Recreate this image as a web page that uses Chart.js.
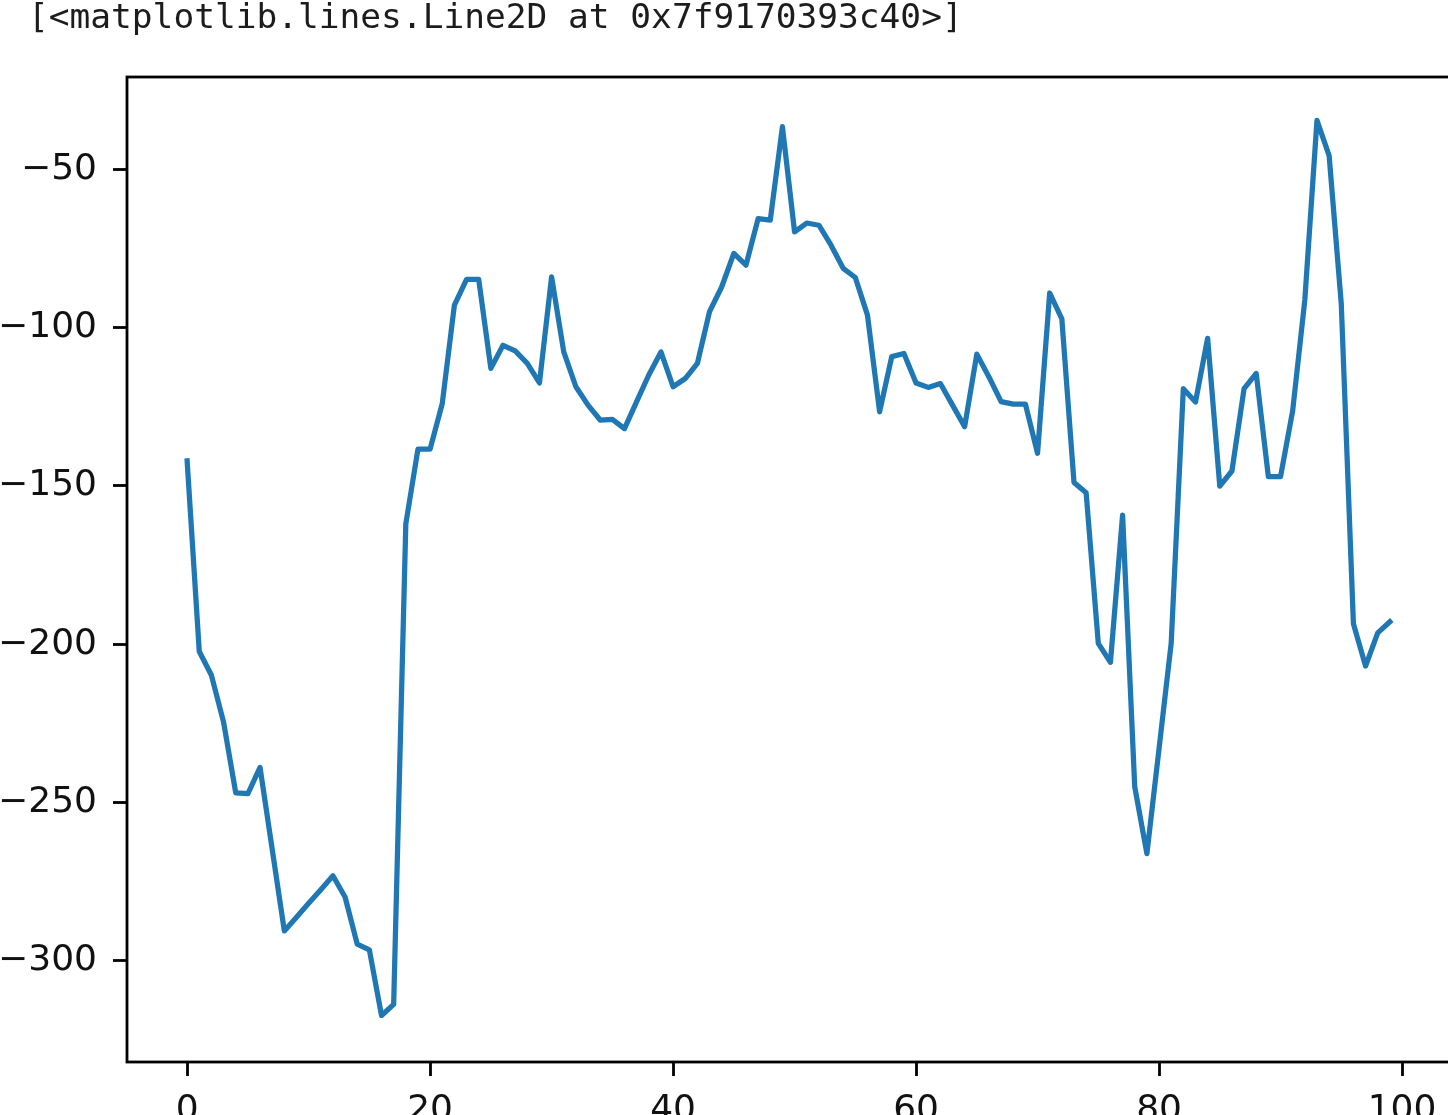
<!DOCTYPE html>
<html>
<head>
<meta charset="utf-8">
<title>Line2D</title>
<script src="https://cdn.jsdelivr.net/npm/chart.js@4.4.1/dist/chart.umd.min.js"></script>
<style>
  html, body { margin: 0; padding: 0; background: #fff; overflow: hidden; width: 1448px; height: 1115px; }
  #walkChart { position: absolute; left: 0; top: 0; }
  #out-text { position: absolute; left: 28px; top: -1px; z-index: 2; font-family: "DejaVu Sans Mono", monospace; font-size: 34.5px; line-height: 34px; color: #1c1c1c; white-space: pre; }
</style>
</head>
<body>
<canvas id="walkChart" width="1460" height="1115"></canvas>
<div id="out-text">[&lt;matplotlib.lines.Line2D at 0x7f9170393c40&gt;]</div>
<script>
// values, one per x = 0..99
const walkValues = [
    -142.1, -202.3, -209.8, -224.6, -246.9, -247.2, -238.9, -264.7, -290.5, -286.2,
    -281.8, -277.5, -273.1, -279.8, -294.7, -296.5, -317.2, -313.7, -162.0, -138.4,
    -138.4, -124.0, -92.9, -84.8, -84.8, -112.9, -105.6, -107.4, -111.3, -117.5,
    -84.0, -107.7, -118.7, -124.5, -129.2, -129.0, -131.9, -123.4, -115.0, -107.7,
    -118.7, -116.1, -111.3, -95.0, -87.2, -76.6, -80.3, -65.6, -66.1, -36.6,
    -69.8, -67.0, -67.7, -74.0, -81.3, -84.2, -96.1, -126.6, -109.2, -108.2,
    -117.5, -118.9, -117.7, -124.5, -131.3, -108.4, -115.6, -123.4, -124.2, -124.2,
    -139.7, -89.1, -97.3, -148.9, -152.2, -199.7, -205.7, -159.2, -245.0, -266.1,
    -233.0, -199.7, -119.3, -123.5, -103.4, -150.1, -145.3, -119.3, -114.5, -147.1,
    -147.1, -126.3, -91.3, -34.6, -45.7, -92.5, -193.5, -206.9, -196.4, -192.9
];
const xTickValues = [0, 20, 40, 60, 80, 100];
const yTickValues = [-300, -250, -200, -150, -100, -50];
const xLimits = [-4.95, 103.95];
const yLimits = [-331.9, -20.9];

// the reference is rendered at ~3.5 px per point
const PT = 3.5;

// matplotlib uses a real minus sign
function minusLabel(v) {
    return v < 0 ? '\u2212' + Math.abs(v) : String(v);
}

// box around the axes (all four spines)
const framePlugin = {
    id: 'frame',
    afterDraw(chart) {
        const { ctx, chartArea: a } = chart;
        ctx.save();
        ctx.strokeStyle = '#000';
        ctx.lineWidth = 0.8 * PT;
        ctx.strokeRect(a.left, a.top, a.right - a.left, a.bottom - a.top);
        ctx.restore();
    }
};

function axisOptions(tickValues, limits, labelPad, fitFn) {
    return {
        type: 'linear',
        min: limits[0],
        max: limits[1],
        afterBuildTicks: (axis) => { axis.ticks = tickValues.map(v => ({ value: v })); },
        afterFit: fitFn,
        border: { display: false },
        grid: {
            drawOnChartArea: false,
            drawTicks: true,
            tickLength: 14,
            tickWidth: 0.8 * PT,
            tickColor: '#000'
        },
        ticks: {
            autoSkip: false,
            maxRotation: 0,
            padding: labelPad,
            color: '#111',
            font: { family: 'DejaVu Sans', size: 36 },
            callback: minusLabel
        }
    };
}

function createChart() {
    const ctx = document.getElementById('walkChart').getContext('2d');
    new Chart(ctx, {
        type: 'line',
        data: {
            datasets: [{
                data: walkValues.map((y, i) => ({ x: i, y: y })),
                borderColor: '#1f77b4',
                borderWidth: 1.5 * PT,
                borderJoinStyle: 'round',
                borderCapStyle: 'square',
                pointRadius: 0,
                tension: 0,
                fill: false
            }]
        },
        options: {
            responsive: false,
            animation: false,
            devicePixelRatio: 1,
            layout: { padding: { top: 77, right: 10, left: 0, bottom: 0 } },
            plugins: { legend: { display: false }, tooltip: { enabled: false } },
            scales: {
                x: Object.assign(axisOptions(xTickValues, xLimits, 13, (axis) => { axis.height = 53; }), { position: 'bottom' }),
                y: Object.assign(axisOptions(yTickValues, yLimits, 16, (axis) => { axis.width = 127; }), { position: 'left' })
            }
        },
        plugins: [framePlugin]
    });
}

createChart();
</script>
</body>
</html>
